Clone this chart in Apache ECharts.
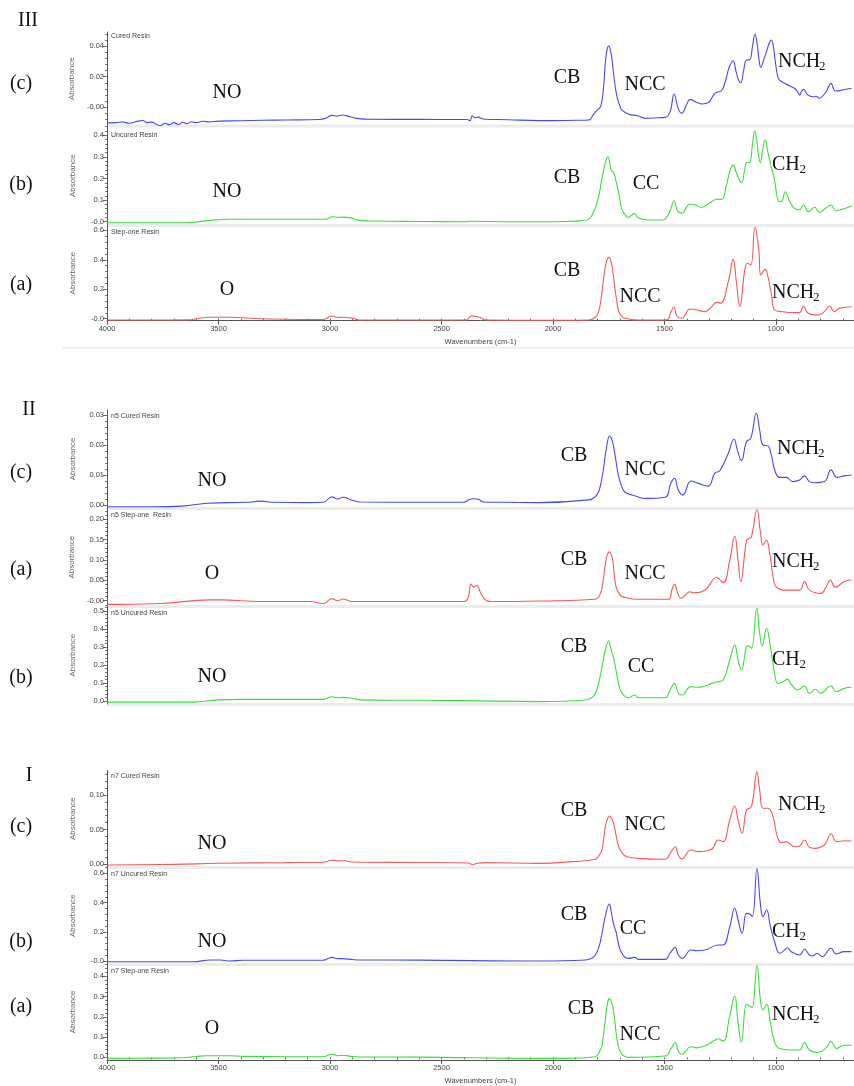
<!DOCTYPE html>
<html>
<head>
<meta charset="utf-8">
<script src="https://cdn.jsdelivr.net/npm/echarts@6/dist/echarts.min.js"></script>
<style>
  html, body { margin: 0; padding: 0; background: #ffffff; }
  #chart { width: 854px; height: 1086px; }
</style>
</head>
<body>
<div id="chart"></div>
<script>
// ---- FTIR spectra: [wavenumber (cm-1), absorbance] ----

// Group III
const curedIII = [
  [4000,-0.0102],[3960,-0.0100],[3930,-0.0096],[3900,-0.0104],[3870,-0.0094],[3840,-0.0086],[3820,-0.0100],
  [3800,-0.0097],[3780,-0.0110],[3760,-0.0120],[3740,-0.0104],[3720,-0.0114],[3700,-0.0100],[3680,-0.0112],
  [3660,-0.0098],[3640,-0.0107],[3620,-0.0094],[3600,-0.0100],[3570,-0.0091],[3540,-0.0096],[3500,-0.0090],
  [3400,-0.0088],[3300,-0.0085],[3200,-0.0083],[3050,-0.0080],[3020,-0.0072],[2990,-0.0053],[2970,-0.0058],
  [2945,-0.0050],[2910,-0.0062],[2880,-0.0072],[2820,-0.0078],[2600,-0.0079],[2385,-0.0080],[2372,-0.0088],
  [2362,-0.0055],[2350,-0.0068],[2335,-0.0064],[2315,-0.0076],[2200,-0.0081],[2062,-0.0087],
  [1900,-0.0085],[1839,-0.0083],[1820,-0.005],[1810,-0.003],[1795,-0.001],[1785,0.001],[1775,0.010],
  [1765,0.029],[1757,0.038],[1750,0.040],[1742,0.037],[1735,0.031],[1725,0.018],[1713,0.007],
  [1700,0.001],[1690,-0.0018],[1660,-0.0045],[1620,-0.0055],[1586,-0.0072],
  [1530,-0.0068],[1497,-0.0066],[1475,-0.003],[1457,0.0087],[1438,-0.001],[1423,-0.0039],[1400,0.002],
  [1385,0.0052],[1360,0.0035],[1333,0.0022],[1300,0.0035],[1280,0.008],[1266,0.0098],[1244,0.0108],
  [1225,0.018],[1210,0.026],[1192,0.0304],[1180,0.024],[1168,0.018],[1158,0.016],[1145,0.024],
  [1132,0.0309],[1118,0.031],[1105,0.040],[1094,0.0478],[1085,0.042],[1075,0.030],[1068,0.0261],
  [1055,0.031],[1043,0.036],[1030,0.042],[1021,0.0439],[1012,0.040],[1003,0.030],[992,0.020],
  [984,0.0178],[961,0.0157],[940,0.0140],[917,0.0124],[900,0.0095],[894,0.008],[885,0.0105],
  [876,0.0117],[866,0.010],[857,0.008],[835,0.0069],[820,0.0072],[805,0.0059],[790,0.0075],
  [775,0.0102],[762,0.0140],[753,0.0157],[744,0.0130],[734,0.0106],[708,0.0111],[661,0.0124]
];
const uncuredIII = [
  [4000,-0.005],[3800,-0.005],[3647,-0.005],[3560,0.004],[3450,0.011],[3200,0.011],[3045,0.011],
  [3010,0.014],[2991,0.023],[2965,0.020],[2942,0.021],[2911,0.019],[2870,0.006],[2800,0.003],
  [2600,0.001],[2400,0.0],[2362,0.002],[2200,0.0],[2062,0.0],
  [1950,0.001],[1869,0.005],[1840,0.012],[1824,0.031],[1808,0.07],[1795,0.116],[1782,0.19],[1772,0.24],
  [1762,0.285],[1753,0.301],[1745,0.27],[1738,0.236],[1728,0.228],[1718,0.19],[1708,0.147],
  [1698,0.09],[1690,0.054],[1675,0.03],[1661,0.020],
  [1648,0.03],[1635,0.039],[1620,0.02],[1600,0.012],[1571,0.008],[1510,0.008],[1497,0.012],
  [1475,0.05],[1457,0.096],[1445,0.06],[1438,0.046],[1420,0.039],[1400,0.07],[1385,0.082],
  [1363,0.078],[1333,0.067],[1300,0.085],[1275,0.101],[1266,0.104],[1244,0.103],[1222,0.17],
  [1205,0.24],[1192,0.262],[1177,0.225],[1155,0.181],[1140,0.24],[1132,0.273],[1118,0.275],
  [1105,0.36],[1095,0.421],[1085,0.37],[1080,0.32],[1070,0.273],[1060,0.33],[1048,0.378],
  [1038,0.33],[1028,0.285],[1018,0.24],[1009,0.208],[1000,0.15],[991,0.1],[976,0.093],
  [958,0.139],[948,0.12],[939,0.095],[917,0.062],[894,0.055],[876,0.077],[854,0.046],
  [827,0.067],[805,0.043],[780,0.06],[753,0.077],[731,0.051],[708,0.056],[661,0.073]
];
const stepOneIII = [
  [4000,-0.009],[3800,-0.009],[3640,-0.008],[3580,0.005],[3536,0.0095],[3450,0.0095],[3390,0.006],
  [3310,0.0],[3134,-0.005],[3031,-0.005],[2991,0.018],[2965,0.008],[2942,0.0095],[2900,0.004],
  [2866,-0.009],[2600,-0.009],[2390,-0.009],[2366,0.018],[2345,0.014],[2330,0.0095],[2299,-0.009],
  [2062,-0.011],[1950,-0.011],[1839,-0.009],[1810,0.01],[1795,0.048],[1783,0.15],[1772,0.285],
  [1760,0.39],[1750,0.417],[1738,0.376],[1730,0.3],[1723,0.217],[1714,0.12],[1705,0.048],
  [1690,0.012],[1676,0.003],[1616,-0.009],[1490,-0.007],[1470,0.05],
  [1457,0.081],[1445,0.02],[1423,0.003],[1385,0.066],[1363,0.062],[1318,0.048],[1289,0.08],
  [1266,0.111],[1248,0.105],[1214,0.25],[1192,0.403],[1177,0.242],[1162,0.081],[1140,0.33],
  [1128,0.376],[1113,0.364],[1094,0.62],[1077,0.466],[1068,0.297],[1048,0.335],[1036,0.285],
  [1021,0.172],[1006,0.059],[976,0.048],[917,0.041],[894,0.041],[876,0.086],[857,0.039],
  [812,0.025],[783,0.048],[760,0.086],[738,0.048],[716,0.07],[661,0.081]
];

// Group II
const curedN5 = [
  [4000,-0.0006],[3800,-0.0006],[3650,-0.0003],[3549,0.0006],[3371,0.0009],[3312,0.0013],[3250,0.0009],
  [3100,0.0008],[3031,0.0009],[2991,0.0027],[2965,0.0020],[2942,0.0026],[2900,0.0016],[2866,0.0010],
  [2600,0.0009],[2400,0.0009],[2375,0.0018],[2355,0.0021],[2335,0.0019],[2310,0.0010],[2200,0.0009],
  [2062,0.0008],[1839,0.0017],[1810,0.0028],[1795,0.0045],[1783,0.008],[1772,0.0128],[1758,0.020],
  [1746,0.023],[1737,0.022],[1728,0.0194],[1716,0.014],[1705,0.0094],
  [1685,0.005],[1668,0.0039],[1631,0.003],[1586,0.0022],[1497,0.0026],[1472,0.0072],[1455,0.0089],[1438,0.005],
  [1418,0.0033],[1381,0.008],[1348,0.0072],[1304,0.0063],[1274,0.0106],[1252,0.0114],[1214,0.0172],
  [1188,0.0219],[1173,0.0183],[1155,0.0148],[1132,0.0211],[1113,0.0222],[1088,0.0306],[1073,0.025],
  [1058,0.020],[1036,0.0197],[1021,0.0167],[1003,0.0111],[984,0.0092],[954,0.0092],[924,0.0078],
  [894,0.0083],[872,0.0097],[850,0.0078],[827,0.0074],[783,0.0078],[753,0.0117],[726,0.0092],
  [694,0.0097],[661,0.010]
];
const stepOneN5 = [
  [4000,-0.009],[3937,-0.009],[3759,-0.007],[3536,0.002],[3491,0.002],[3312,-0.002],[3089,-0.002],
  [3031,-0.007],[2991,0.005],[2965,0.0],[2942,0.004],[2900,-0.002],[2600,-0.002],[2400,-0.002],
  [2380,0.008],[2368,0.041],[2356,0.034],[2342,0.038],[2325,0.02],[2305,0.003],[2280,-0.002],
  [2062,-0.0007],[1810,0.0034],[1787,0.018],[1775,0.05],[1765,0.091],[1755,0.115],[1747,0.12],
  [1740,0.115],[1732,0.10],[1725,0.065],[1717,0.034],
  [1700,0.015],[1690,0.010],[1616,0.0034],[1482,0.0034],[1467,0.0264],[1455,0.040],[1438,0.014],[1426,0.006],
  [1385,0.022],[1371,0.0197],[1318,0.0264],[1266,0.057],[1237,0.0444],[1207,0.10],[1185,0.159],
  [1170,0.10],[1158,0.047],[1132,0.149],[1122,0.153],[1110,0.157],[1085,0.224],[1070,0.17],
  [1058,0.137],[1043,0.149],[1028,0.116],[1013,0.059],[999,0.034],[961,0.026],[894,0.026],
  [872,0.047],[850,0.026],[798,0.018],[775,0.034],[756,0.051],[734,0.033],[694,0.047],[661,0.051]
];
const uncuredN5 = [
  [4000,-0.006],[3800,-0.006],[3612,-0.006],[3504,0.006],[3388,0.009],[3100,0.009],[3031,0.009],
  [2991,0.024],[2965,0.018],[2942,0.020],[2900,0.015],[2866,0.006],[2600,0.004],[2400,0.002],
  [2062,-0.0037],[1854,0.0056],[1825,0.02],[1810,0.043],[1795,0.1],[1780,0.19],[1762,0.30],
  [1750,0.335],[1742,0.30],[1735,0.265],[1728,0.24],[1720,0.19],[1708,0.11],
  [1698,0.061],[1680,0.028],[1661,0.018],[1634,0.033],[1616,0.018],[1497,0.018],[1475,0.061],[1455,0.098],
  [1438,0.043],[1423,0.033],[1381,0.080],[1348,0.076],[1318,0.083],[1289,0.098],[1262,0.107],
  [1237,0.117],[1207,0.228],[1185,0.311],[1170,0.228],[1155,0.172],[1132,0.302],[1122,0.307],
  [1110,0.293],[1086,0.515],[1073,0.376],[1062,0.306],[1042,0.404],[1025,0.302],[1006,0.154],
  [991,0.098],[969,0.107],[949,0.12],[932,0.094],[902,0.061],[872,0.083],[850,0.043],
  [823,0.065],[801,0.043],[753,0.083],[731,0.052],[694,0.070],[661,0.076]
];

// Group I
const curedN7 = [
  [4000,-0.0015],[3700,-0.0005],[3500,0.001],[3200,0.002],[3031,0.0025],[2991,0.0055],[2965,0.0045],
  [2942,0.005],[2900,0.003],[2850,0.0025],[2600,0.0022],[2380,0.0015],[2360,-0.001],[2340,0.001],
  [2300,0.002],[2062,0.0009],[1914,0.0034],[1810,0.0068],[1790,0.014],[1780,0.0203],[1765,0.0541],
  [1755,0.066],[1746,0.0696],[1737,0.066],[1728,0.0589],[1716,0.040],[1705,0.0251],[1685,0.014],
  [1668,0.0106],[1616,0.0082],[1497,0.0068],[1470,0.0179],[1452,0.0251],
  [1438,0.013],[1423,0.0072],[1381,0.0203],[1348,0.0179],[1289,0.0213],[1259,0.0348],[1237,0.0324],
  [1207,0.0638],[1185,0.084],[1170,0.0638],[1152,0.0445],[1132,0.0783],[1110,0.0831],[1085,0.1335],
  [1073,0.1072],[1058,0.0807],[1036,0.0807],[1013,0.0686],[994,0.0396],[976,0.0309],[954,0.0324],
  [917,0.0251],[894,0.0261],[872,0.0348],[850,0.0242],[827,0.0227],[783,0.0275],[753,0.0435],
  [728,0.0324],[694,0.0338],[661,0.0333]
];
const uncuredN7 = [
  [4000,-0.005],[3800,-0.005],[3612,-0.005],[3536,0.007],[3491,0.007],[3450,0.0],[3390,0.005],
  [3100,0.005],[3031,0.005],[2991,0.025],[2965,0.016],[2942,0.016],[2900,0.010],[2866,0.007],
  [2600,0.006],[2062,0.0],[1854,0.0068],[1825,0.02],[1810,0.041],[1795,0.09],[1780,0.19],[1762,0.33],
  [1747,0.39],[1739,0.34],[1732,0.28],[1724,0.23],[1717,0.20],[1708,0.13],[1698,0.075],[1680,0.03],
  [1661,0.018],[1634,0.025],[1616,0.011],[1497,0.011],[1475,0.053],
  [1452,0.094],[1438,0.041],[1420,0.018],[1381,0.075],[1356,0.070],[1318,0.075],[1259,0.11],
  [1237,0.11],[1207,0.235],[1185,0.361],[1170,0.281],[1152,0.19],[1132,0.326],[1118,0.322],
  [1106,0.304],[1085,0.632],[1070,0.395],[1058,0.304],[1042,0.349],[1025,0.235],[1006,0.132],
  [984,0.053],[969,0.064],[949,0.091],[932,0.064],[894,0.041],[872,0.080],[850,0.041],
  [835,0.034],[816,0.053],[793,0.030],[753,0.087],[731,0.048],[694,0.064],[661,0.064]
];
const stepOneN7 = [
  [4000,-0.005],[3800,-0.004],[3683,-0.003],[3600,0.004],[3558,0.008],[3446,0.008],[3388,0.005],
  [3200,0.003],[3031,0.003],[2991,0.015],[2965,0.008],[2942,0.010],[2900,0.004],[2866,0.002],
  [2600,0.001],[2062,-0.005],[1950,-0.005],[1810,0.0032],[1790,0.03],[1780,0.060],[1765,0.189],
  [1755,0.27],[1746,0.29],[1739,0.275],[1732,0.254],[1724,0.19],[1717,0.124],[1708,0.06],
  [1698,0.0275],[1680,0.006],[1661,0.0],[1497,0.0065],[1470,0.044],[1452,0.073],
  [1438,0.031],[1423,0.015],[1381,0.052],[1356,0.047],[1318,0.057],[1274,0.084],[1259,0.092],
  [1237,0.079],[1207,0.206],[1185,0.303],[1170,0.173],[1155,0.076],[1132,0.262],[1118,0.254],
  [1107,0.246],[1085,0.455],[1070,0.286],[1058,0.234],[1042,0.262],[1025,0.173],[1006,0.076],
  [984,0.044],[917,0.036],[894,0.036],[872,0.073],[850,0.036],[813,0.024],[775,0.047],
  [753,0.079],[728,0.044],[694,0.060],[661,0.060]
];

// ---- axis tick labels ----
const wavenumberTicks = [4000, 3500, 3000, 2500, 2000, 1500, 1000];
const ticksCuredIII   = { values: [0.04, 0.02, 0], labels: ['0.04', '0.02', '-0.00'] };
const ticksUncuredIII = { values: [0.4, 0.3, 0.2, 0.1, 0], labels: ['0.4', '0.3', '0.2', '0.1', '-0.0'] };
const ticksStepIII    = { values: [0.6, 0.4, 0.2, 0], labels: ['0.6', '0.4', '0.2', '-0.0'] };
const ticksCuredN5    = { values: [0.03, 0.02, 0.01, 0], labels: ['0.03', '0.02', '0.01', '0.00'] };
const ticksStepN5     = { values: [0.2, 0.15, 0.1, 0.05, 0], labels: ['0.20', '0.15', '0.10', '0.05', '-0.00'] };
const ticksUncuredN5  = { values: [0.5, 0.4, 0.3, 0.2, 0.1, 0], labels: ['0.5', '0.4', '0.3', '0.2', '0.1', '0.0'] };
const ticksCuredN7    = { values: [0.1, 0.05, 0], labels: ['0.10', '0.05', '0.00'] };
const ticksUncuredN7  = { values: [0.6, 0.4, 0.2, 0], labels: ['0.6', '0.4', '0.2', '-0.0'] };
const ticksStepN7     = { values: [0.4, 0.3, 0.2, 0.1, 0], labels: ['0.4', '0.3', '0.2', '0.1', '0.0'] };

const BLUE = '#4848f4', GREEN = '#3edc3e', RED = '#f45a5a';

// panels, top to bottom
const panels = [
  { title: 'Cured Resin',        data: curedIII,   color: BLUE,  ticks: ticksCuredIII },
  { title: 'Uncured Resin',      data: uncuredIII, color: GREEN, ticks: ticksUncuredIII },
  { title: 'Step-one Resin',     data: stepOneIII, color: RED,   ticks: ticksStepIII },
  { title: 'n5 Cured Resin',     data: curedN5,    color: BLUE,  ticks: ticksCuredN5 },
  { title: 'n5 Step-one  Resin', data: stepOneN5,  color: RED,   ticks: ticksStepN5 },
  { title: 'n5 Uncured Resin',   data: uncuredN5,  color: GREEN, ticks: ticksUncuredN5 },
  { title: 'n7 Cured Resin',     data: curedN7,    color: RED,   ticks: ticksCuredN7 },
  { title: 'n7 Uncured Resin',   data: uncuredN7,  color: BLUE,  ticks: ticksUncuredN7 },
  { title: 'n7 Step-one Resin',  data: stepOneN7,  color: GREEN, ticks: ticksStepN7 }
];

// ---- layout (pixels): panel box, zero line, pixels per absorbance unit ----
const layout = [
  { top: 32,    bottom: 125.5,  zero: 107.3,  scale: 1532,  minor: 0.004, titleY: 36 },
  { top: 126.5, bottom: 225,    zero: 221.7,  scale: 216,   minor: 0.02,  titleY: 135 },
  { top: 225.5, bottom: 320.7,  zero: 318.7,  scale: 147.3, minor: 0.04,  titleY: 232, bottomAxis: true },
  { top: 410,   bottom: 508,    zero: 505,    scale: 3000,  minor: 0.002, titleY: 416.5 },
  { top: 508.5, bottom: 606,    zero: 600.7,  scale: 407,   minor: 0.01,  titleY: 515 },
  { top: 606.5, bottom: 704,    zero: 701,    scale: 180,   minor: 0.02,  titleY: 613 },
  { top: 770.5, bottom: 867,    zero: 864,    scale: 690,   minor: 0.01,  titleY: 776 },
  { top: 867.5, bottom: 964,    zero: 961,    scale: 146,   minor: 0.04,  titleY: 874 },
  { top: 964,   bottom: 1061.7, zero: 1059,   scale: 206,   minor: 0.02,  titleY: 971.5, bottomAxis: true }
];
const PLOT_LEFT = 107, PLOT_WIDTH = 750, WN_MIN = 650, WN_MAX = 4000;

// group numerals, sample letters and band labels
const SERIF = '"Liberation Serif", "Times New Roman", serif';
const sideLabels = [
  ['III', 28, 21], ['(c)', 21, 84], ['(b)', 21, 185], ['(a)', 21, 285],
  ['II', 29, 410], ['(c)', 21, 473], ['(a)', 21, 570], ['(b)', 21, 678],
  ['I', 29, 776], ['(c)', 21, 827], ['(b)', 21, 942], ['(a)', 21, 1007]
];
const bandLabels = [
  ['NO', 227, 93], ['CB', 567, 78], ['NCC', 645, 85],
  ['NO', 227, 192], ['CB', 567, 178], ['CC', 646, 184],
  ['O', 227, 290], ['CB', 567, 271], ['NCC', 640, 297],
  ['NO', 212, 481], ['CB', 574, 456], ['NCC', 645, 470],
  ['O', 212, 574], ['CB', 574, 560], ['NCC', 645, 574],
  ['NO', 212, 677], ['CB', 574, 647], ['CC', 641, 667],
  ['NO', 212, 844], ['CB', 574, 811], ['NCC', 645, 825],
  ['NO', 212, 942], ['CB', 574, 915], ['CC', 633, 929],
  ['O', 212, 1029], ['CB', 581, 1009], ['NCC', 640, 1035]
];
// labels with subscript 2: [base text, left x, y]
const subLabels = [
  ['NCH', 778, 62], ['CH', 772, 165], ['NCH', 772, 293],
  ['NCH', 777, 449], ['NCH', 772, 562], ['CH', 772, 660],
  ['NCH', 778, 805], ['CH', 772, 932], ['NCH', 772, 1015]
];

// ---- build the option ----
const grids = [], xAxes = [], yAxes = [], series = [], graphics = [];
const round = v => Math.round(v * 1e6) / 1e6;
const minorX = [];
for (let w = 700; w <= 4000; w += 100) minorX.push(w);

panels.forEach((p, i) => {
  const L = layout[i];
  const yMin = -(L.bottom - L.zero) / L.scale;
  const yMax = (L.zero - L.top) / L.scale;
  grids.push({ left: PLOT_LEFT, width: PLOT_WIDTH, top: L.top, height: L.bottom - L.top, containLabel: false });

  const xi = xAxes.length;
  xAxes.push({
    type: 'value', gridIndex: i, min: WN_MIN, max: WN_MAX, inverse: true,
    show: !!L.bottomAxis,
    axisLine: { show: true, onZero: false, lineStyle: { color: '#555', width: 1 } },
    axisTick: { show: true, inside: false, length: 4, customValues: wavenumberTicks, lineStyle: { color: '#555' } },
    axisLabel: { show: true, customValues: wavenumberTicks, fontSize: 7.5, color: '#444', margin: 4,
                 fontFamily: '"Liberation Sans", Arial, sans-serif', formatter: v => String(v) },
    splitLine: { show: false },
    name: 'Wavenumbers (cm-1)', nameLocation: 'middle', nameGap: 17,
    nameTextStyle: { fontSize: 7.5, color: '#444', fontFamily: '"Liberation Sans", Arial, sans-serif' }
  });
  if (L.bottomAxis) {
    xAxes.push({
      type: 'value', gridIndex: i, min: WN_MIN, max: WN_MAX, inverse: true, position: 'bottom',
      axisLine: { show: false }, axisLabel: { show: false }, splitLine: { show: false },
      axisTick: { show: true, length: 2, customValues: minorX, lineStyle: { color: '#666' } }
    });
  }

  const minorY = [];
  const start = Math.ceil(yMin / L.minor - 1e-9);
  for (let k = start; k * L.minor <= yMax + 1e-9; k++) minorY.push(round(k * L.minor));
  const yi = yAxes.length;
  yAxes.push({
    type: 'value', gridIndex: i, min: yMin, max: yMax, position: 'left',
    axisLine: { show: true, onZero: false, lineStyle: { color: '#555', width: 1 } },
    axisTick: { show: true, length: 4, customValues: p.ticks.values, lineStyle: { color: '#555' } },
    axisLabel: {
      show: true, customValues: p.ticks.values, fontSize: 7.5, color: '#444', margin: 3,
      fontFamily: '"Liberation Sans", Arial, sans-serif',
      formatter: v => {
        const k = p.ticks.values.findIndex(t => Math.abs(t - v) < 1e-9);
        return k >= 0 ? p.ticks.labels[k] : '';
      }
    },
    splitLine: { show: false },
    name: 'Absorbance', nameLocation: 'middle', nameGap: 30,
    nameTextStyle: { fontSize: 8, color: '#666', fontFamily: '"Liberation Sans", Arial, sans-serif' }
  });
  yAxes.push({
    type: 'value', gridIndex: i, min: yMin, max: yMax, position: 'left',
    axisLine: { show: false }, axisLabel: { show: false }, splitLine: { show: false },
    axisTick: { show: true, length: 2, customValues: minorY, lineStyle: { color: '#777' } }
  });

  series.push({
    type: 'line', name: p.title, xAxisIndex: xi, yAxisIndex: yi, data: p.data,
    showSymbol: false, smooth: 0.45, clip: true,
    lineStyle: { color: p.color, width: 1.1 }, itemStyle: { color: p.color }, z: 3
  });

  // thin grey band under each panel except the ones sitting on an x axis
  if (!L.bottomAxis) {
    graphics.push({ type: 'rect', silent: true, z: -1,
      shape: { x: PLOT_LEFT, y: L.bottom - 1, width: 854 - PLOT_LEFT, height: 3 },
      style: { fill: '#ececec' } });
  }
  graphics.push({ type: 'text', silent: true, x: 111, y: L.titleY,
    style: { text: p.title, fontSize: 7, fill: '#444', textVerticalAlign: 'middle',
             fontFamily: '"Liberation Sans", Arial, sans-serif' } });
});

// faint frame line under the top figure
graphics.push({ type: 'rect', silent: true, z: -1,
  shape: { x: 62, y: 347, width: 792, height: 1.5 }, style: { fill: '#ededed' } });

sideLabels.forEach(([t, x, y]) => graphics.push({ type: 'text', silent: true, x, y,
  style: { text: t, fontSize: 20, fill: '#111', fontFamily: SERIF, textAlign: 'center', textVerticalAlign: 'middle' } }));
bandLabels.forEach(([t, x, y]) => graphics.push({ type: 'text', silent: true, x, y,
  style: { text: t, fontSize: 20, fill: '#111', fontFamily: SERIF, textAlign: 'center', textVerticalAlign: 'middle' } }));
subLabels.forEach(([t, x, y]) => {
  const w = t === 'NCH' ? 41 : 27.5;
  graphics.push({ type: 'text', silent: true, x, y,
    style: { text: t, fontSize: 20, fill: '#111', fontFamily: SERIF, textAlign: 'left', textVerticalAlign: 'middle' } });
  graphics.push({ type: 'text', silent: true, x: x + w, y: y + 5,
    style: { text: '2', fontSize: 13, fill: '#111', fontFamily: SERIF, textAlign: 'left', textVerticalAlign: 'middle' } });
});

const chart = echarts.init(document.getElementById('chart'), null, { renderer: 'canvas' });
chart.setOption({
  backgroundColor: '#ffffff',
  animation: false,
  grid: grids,
  xAxis: xAxes,
  yAxis: yAxes,
  series: series,
  graphic: { elements: graphics }
});
</script>
</body>
</html>
